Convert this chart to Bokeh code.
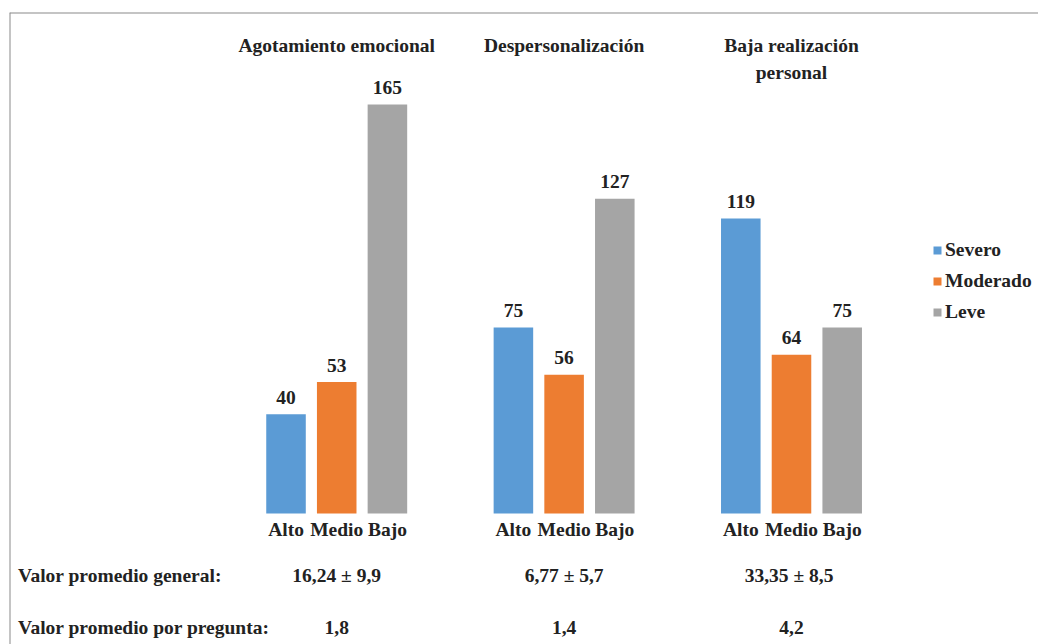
import numpy as np
from bokeh.plotting import figure
from bokeh.models import Range1d, Span
from bokeh.core.properties import value
from bokeh.embed import file_html
from bokeh.resources import INLINE

# ---- data ----
groups = ["Agotamiento emocional", "Despersonalización", "Baja realización\npersonal"]
levels = ["Alto", "Medio", "Bajo"]
severity = ["Severo", "Moderado", "Leve"]
alto = [40, 75, 119]
medio = [53, 56, 64]
bajo = [165, 127, 75]
promedio_general = ["16,24 ± 9,9", "6,77 ± 5,7", "33,35 ±  8,5"]
promedio_pregunta = ["1,8", "1,4", "4,2"]
row_labels = ["Valor promedio  general:", "Valor promedio por pregunta:"]

# ---- style / layout ----
colors = ["#5B9BD5", "#ED7D31", "#A5A5A5"]
TXT = "#222222"
FONT_NAME = "Liberation Serif"
FONT = value(FONT_NAME)
FS = "19.5px"
STRIDE = 4.485
BAR_W = 0.78
X0, X1 = -5.454, 14.842
Y0, Y1 = -52.85, 202.1

p = figure(width=1038, height=644, x_range=Range1d(X0, X1), y_range=Range1d(Y0, Y1),
           output_backend="svg", toolbar_location=None,
           x_axis_location=None, y_axis_location=None,
           min_border_left=9, min_border_right=0, min_border_top=12, min_border_bottom=0)
p.grid.visible = False
p.outline_line_color = None
p.background_fill_color = "white"
p.border_fill_color = "white"

gx = np.arange(len(groups)) * STRIDE
series = [alto, medio, bajo]
for li, (vals, col, sev) in enumerate(zip(series, colors, severity)):
    xs = gx + li
    p.vbar(x=xs, top=vals, bottom=0, width=BAR_W, fill_color=col, line_color=None,
           legend_label=sev)
    p.text(x=xs, y=vals, text=[str(v) for v in vals], text_align="center",
           text_baseline="alphabetic", y_offset=-17, text_font=FONT,
           text_font_style="bold", text_font_size=FS, text_color=TXT)
    p.text(x=xs, y=[0] * len(xs), text=[levels[li]] * len(xs), text_align="center",
           text_baseline="alphabetic", y_offset=16, text_font=FONT,
           text_font_style="bold", text_font_size=FS, text_color=TXT)

# group titles
p.text(x=gx + 1, y=[Y1] * 3, text=groups, text_align="center", text_baseline="top",
       y_offset=22, text_font=FONT, text_font_style="bold", text_font_size=FS,
       text_color=TXT, text_line_height=1.3)

# bottom rows
for vals, off in ((promedio_general, 62), (promedio_pregunta, 114)):
    p.text(x=gx + 1, y=[0] * 3, text=vals, text_align="center", text_baseline="alphabetic",
           y_offset=off, text_font=FONT, text_font_style="bold", text_font_size=FS,
           text_color=TXT)
p.text(x=[X0 + 0.17] * 2, y=[0, 0], text=row_labels, text_align="left",
       text_baseline="alphabetic", y_offset=[62, 114], text_font=FONT,
       text_font_style="bold", text_font_size=FS, text_color=TXT)

# frame lines (top, left)
p.add_layout(Span(location=Y1, dimension="width", line_color="#8a8a8a", line_width=2))
p.add_layout(Span(location=X0, dimension="height", line_color="#8a8a8a", line_width=2))

lg = p.legend[0]
lg.location = (923, 321)
lg.glyph_width = 10
lg.glyph_height = 10
lg.label_standoff = 3
lg.spacing = 9
lg.padding = 0
lg.margin = 0
lg.border_line_color = None
lg.background_fill_alpha = 0
lg.label_text_font = FONT_NAME
lg.label_text_font_style = "bold"
lg.label_text_font_size = FS
lg.label_text_color = TXT
lg.label_height = 20

open("out.html", "w").write(file_html(p, INLINE))
